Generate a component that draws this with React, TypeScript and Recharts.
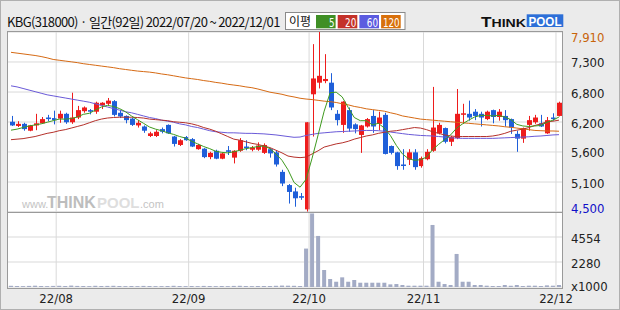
import { ComposedChart, BarChart, Bar, Line, XAxis, YAxis, CartesianGrid, ReferenceLine } from 'recharts'

// 일간 92일 (2022/07/20 ~ 2022/12/01)
const DATES = [
  '07/20', '07/21', '07/22', '07/25', '07/26', '07/27', '07/28', '07/29',
  '08/01', '08/02', '08/03', '08/04', '08/05', '08/08', '08/09', '08/10', '08/11', '08/12',
  '08/16', '08/17', '08/18', '08/19', '08/22', '08/23', '08/24', '08/25', '08/26', '08/29', '08/30', '08/31',
  '09/01', '09/02', '09/05', '09/06', '09/07', '09/08', '09/13', '09/14', '09/15', '09/16',
  '09/19', '09/20', '09/21', '09/22', '09/23', '09/26', '09/27', '09/28', '09/29', '09/30',
  '10/04', '10/05', '10/06', '10/07', '10/11', '10/12', '10/13', '10/14', '10/17', '10/18',
  '10/19', '10/20', '10/21', '10/24', '10/25', '10/26', '10/27', '10/28', '10/31',
  '11/01', '11/02', '11/03', '11/04', '11/07', '11/08', '11/09', '11/10', '11/11', '11/14',
  '11/15', '11/16', '11/17', '11/18', '11/21', '11/22', '11/23', '11/24', '11/25', '11/28', '11/29', '11/30',
  '12/01',
]

const OPEN = [
  6210, 6130, 6170, 6040, 6140, 6180, 6290, 6280, 6270, 6360,
  6200, 6290, 6410, 6430, 6400, 6520, 6550, 6600, 6380, 6320,
  6270, 6140, 6120, 5940, 5940, 6070, 6150, 5930, 5770, 5920,
  5880, 5690, 5700, 5540, 5660, 5510, 5670, 5530, 5660, 5740,
  5680, 5680, 5620, 5690, 5630, 5260, 5010, 4890, 4800, 4550,
  6730, 6950, 6980, 6950, 6360, 6150, 6430, 6160, 5960, 6120,
  6320, 6170, 6340, 5750, 5630, 5400, 5490, 5630, 5370, 5500,
  5660, 5990, 6090, 5830, 5900, 6360, 6360, 6400, 6360, 6260,
  6430, 6300, 6320, 6260, 5980, 5890, 6150, 6200, 6180, 5990,
  6290, 6320,
]
const HIGH = [
  6320, 6220, 6190, 6150, 6360, 6300, 6340, 6420, 6420, 6380,
  6760, 6510, 6500, 6450, 6590, 6580, 6660, 6620, 6430, 6330,
  6280, 6240, 6140, 6020, 6050, 6100, 6160, 5940, 5880, 5940,
  5900, 5790, 5710, 5640, 5680, 5620, 5750, 5670, 5900, 5860,
  5750, 5820, 5800, 5710, 5660, 5300, 5030, 4960, 4860, 6200,
  7680, 7910, 7490, 7130, 6430, 6600, 6480, 6180, 6150, 6280,
  6430, 6400, 6380, 5760, 5640, 5690, 5690, 5690, 5550, 5690,
  6870, 6190, 6100, 5940, 6830, 6550, 6610, 6450, 6400, 6420,
  6440, 6450, 6430, 6270, 6040, 6100, 6320, 6340, 6340, 6300,
  6370, 6590,
]
const LOW = [
  6130, 6110, 6040, 6030, 6050, 6170, 6220, 6160, 6190, 6170,
  6170, 6260, 6380, 6350, 6360, 6450, 6520, 6310, 6280, 6180,
  6130, 6100, 6000, 5920, 5920, 5990, 5980, 5740, 5750, 5850,
  5730, 5680, 5520, 5500, 5500, 5500, 5580, 5420, 5640, 5670,
  5650, 5660, 5600, 5530, 5360, 4990, 4660, 4600, 4730, 4500,
  5930, 6840, 6940, 6430, 6140, 6000, 6020, 5990, 5620, 6100,
  6000, 6050, 5590, 5590, 5300, 5300, 5390, 5300, 5340, 5480,
  5640, 5970, 5800, 5750, 5880, 6170, 6230, 6240, 6120, 6240,
  6180, 6230, 6120, 5980, 5640, 5810, 6040, 6170, 6110, 5980,
  6230, 6310,
]
const CLOSE = [
  6140, 6170, 6070, 6140, 6180, 6260, 6260, 6240, 6360, 6200,
  6290, 6430, 6480, 6400, 6570, 6570, 6610, 6340, 6310, 6240,
  6150, 6190, 6040, 5990, 6020, 6020, 5990, 5790, 5860, 5860,
  5740, 5770, 5540, 5620, 5510, 5610, 5640, 5660, 5860, 5710,
  5720, 5760, 5770, 5610, 5400, 5040, 4880, 4760, 4770, 6200,
  7030, 7080, 7020, 6480, 6240, 6590, 6080, 6070, 6140, 6260,
  6120, 6290, 5600, 5620, 5370, 5380, 5630, 5350, 5520, 5640,
  6100, 6150, 5830, 5920, 6360, 6370, 6290, 6320, 6290, 6400,
  6300, 6400, 6240, 6100, 5890, 6090, 6240, 6290, 6120, 6240,
  6260, 6570,
]
// 거래량 (천주)
const VOLUME = [
  110, 90, 80, 100, 120, 90, 80, 100, 110, 90,
  130, 100, 90, 80, 110, 90, 100, 110, 90, 80,
  90, 80, 100, 90, 80, 80, 90, 110, 90, 80,
  90, 80, 100, 90, 80, 90, 80, 100, 110, 90,
  80, 90, 90, 90, 110, 130, 120, 110, 90, 3500,
  6700, 4650, 1550, 730, 480, 880, 480, 640, 390, 390,
  390, 390, 390, 240, 270, 180, 120, 120, 120, 120,
  5650, 480, 270, 180, 3010, 480, 480, 180, 180, 120,
  90, 90, 180, 120, 180, 90, 120, 120, 90, 150,
  120, 180,
]
// 이동평균 5 / 20 / 60 / 120
const MA5 = [
  6050, 6070, 6100, 6130, 6150, 6170, 6200, 6230, 6260, 6260,
  6270, 6300, 6350, 6370, 6430, 6490, 6520, 6500, 6460, 6400,
  6320, 6250, 6180, 6110, 6070, 6040, 6000, 5970, 5930, 5900,
  5840, 5790, 5740, 5700, 5650, 5630, 5620, 5640, 5670, 5700,
  5720, 5740, 5750, 5700, 5600, 5480, 5300, 5060, 4970, 5120,
  5520, 5960, 6410, 6760, 6770, 6680, 6480, 6290, 6230, 6230,
  6150, 6180, 6090, 5950, 5760, 5600, 5510, 5480, 5490, 5540,
  5680, 5780, 5870, 5960, 6090, 6170, 6240, 6300, 6330, 6330,
  6320, 6330, 6300, 6250, 6160, 6130, 6120, 6130, 6140, 6200,
  6240, 6300,
]
const MA20 = [
  5870, 5880, 5890, 5910, 5930, 5960, 5990, 6010, 6040, 6060,
  6090, 6120, 6150, 6190, 6230, 6260, 6280, 6290, 6295, 6295,
  6295, 6290, 6280, 6260, 6250, 6240, 6230, 6210, 6200, 6190,
  6170, 6140, 6100, 6070, 6030, 5980, 5930, 5880, 5860, 5830,
  5800, 5780, 5750, 5720, 5670, 5620, 5560, 5540, 5530, 5540,
  5600, 5660, 5730, 5760, 5790, 5810, 5840, 5880, 5910, 5940,
  5960, 5990, 6010, 6030, 6040, 6060, 6080, 6100, 6090, 6060,
  6020, 5990, 5960, 5940, 5930, 5930, 5930, 5930, 5930, 5930,
  5940, 5960, 5990, 6030, 6050, 6070, 6100, 6140, 6170, 6210,
  6220, 6240,
]
const MA60 = [
  6890, 6870, 6840, 6810, 6780, 6750, 6720, 6700, 6680, 6660,
  6640, 6620, 6600, 6580, 6550, 6520, 6490, 6460, 6430, 6400,
  6380, 6350, 6320, 6290, 6270, 6240, 6220, 6200, 6170, 6150,
  6120, 6100, 6070, 6040, 6020, 6010, 6000, 6000, 5995, 5990,
  5990, 5985, 5980, 5970, 5960, 5945, 5930, 5915, 5920, 5950,
  5970, 5990, 6000, 6010, 6020, 6025, 6030, 6035, 6040, 6045,
  6045, 6040, 6030, 6015, 6000, 5985, 5970, 5960, 5950, 5945,
  5940, 5930, 5920, 5905, 5900, 5895, 5895, 5895, 5895, 5895,
  5895, 5900, 5905, 5910, 5915, 5920, 5925, 5935, 5940, 5950,
  5960, 5965,
]
const MA120 = [
  7525, 7510, 7495, 7480, 7465, 7445, 7420, 7390, 7375, 7360,
  7345, 7330, 7310, 7295, 7280, 7265, 7250, 7235, 7215, 7200,
  7185, 7170, 7160, 7150, 7135, 7115, 7100, 7080, 7060, 7040,
  7025, 7010, 6990, 6975, 6955, 6940, 6920, 6905, 6890, 6870,
  6855, 6830, 6800, 6770, 6750, 6730, 6700, 6680, 6655, 6640,
  6630, 6615, 6600, 6590, 6575, 6550, 6530, 6500, 6480, 6455,
  6440, 6425, 6410, 6380, 6355, 6320, 6300, 6280, 6260, 6250,
  6240, 6230, 6220, 6210, 6200, 6190, 6180, 6170, 6160, 6150,
  6140, 6130, 6115, 6105, 6090, 6075, 6060, 6045, 6040, 6035,
  6035, 6030,
]

const PRICE_TICKS = [4500, 5068, 5637, 6205, 6773, 7342, 7910]
const PRICE_LABELS = ['4,500', '5,100', '5,600', '6,200', '6,800', '7,300', '7,910']
const VOL_TICKS = [0, 2277, 4554]
const VOL_LABELS = ['x1000', '2280', '4554']
const MONTH_TICKS = ['08/01', '09/01', '10/04', '11/01', '12/01']
const MONTH_LABELS = ['22/08', '22/09', '22/10', '22/11', '22/12']

const UP = '#ee1c1c'
const DOWN = '#1f5fd9'
const GRID = '#d9d9d9'
const FRAME = '#9a9a9a'
const NARROW = "'DejaVu Sans Condensed', 'Liberation Sans', sans-serif"
const KR = "'Noto Sans CJK KR', sans-serif"
const LOGO = "'Liberation Sans', sans-serif"

const rows = DATES.map((date, i) => ({
  date,
  open: OPEN[i],
  high: HIGH[i],
  low: LOW[i],
  close: CLOSE[i],
  range: [LOW[i], HIGH[i]],
  volume: VOLUME[i],
  ma5: MA5[i],
  ma20: MA20[i],
  ma60: MA60[i],
  ma120: MA120[i],
}))

function Candle(props: any) {
  const { x, y, width, height, payload } = props
  const { open, close, high, low } = payload
  const span = high - low
  const toY = (v: number) => (span === 0 ? y : y + ((high - v) / span) * height)
  const color = close >= open ? UP : DOWN
  const cx = Math.round(x + width / 2) + 0.5
  const top = toY(Math.max(open, close))
  const bottom = toY(Math.min(open, close))
  return (
    <g>
      <line x1={cx} x2={cx} y1={y} y2={y + height} stroke={color} strokeWidth={1} />
      <rect x={cx - 2.5} y={top} width={5} height={Math.max(1.5, bottom - top)} fill={color} />
    </g>
  )
}

function PriceTick({ y, payload }: any) {
  const i = PRICE_TICKS.indexOf(payload.value)
  const last = PRICE_TICKS.length - 1
  const shift = i === last ? 5.5 : i === 0 ? -4 : 1
  const fill = i === last ? '#c8640a' : i === 0 ? '#1010c8' : '#222'
  return (
    <text x={571} y={y + shift} dominantBaseline="central" fontSize={13} fontFamily={NARROW} fill={fill}>
      {PRICE_LABELS[i]}
    </text>
  )
}

function VolTick({ y, payload }: any) {
  const i = VOL_TICKS.indexOf(payload.value)
  return (
    <text x={571} y={y + (i === 0 ? -1 : 1)} dominantBaseline="central" fontSize={13} fontFamily={NARROW} fill="#222">
      {VOL_LABELS[i]}
    </text>
  )
}

function MonthTick({ x, y, payload }: any) {
  const i = MONTH_TICKS.indexOf(payload.value)
  return (
    <text x={x - 3} y={y + 8} textAnchor="middle" fontSize={13} fontFamily={NARROW} fill="#222">
      {MONTH_LABELS[i]}
    </text>
  )
}

const legendItems = [
  { label: '5', color: '#3f8f25' },
  { label: '20', color: '#c4322a' },
  { label: '60', color: '#5c5ce0' },
  { label: '120', color: '#d8700c' },
]

function Header() {
  return (
    <svg width={620} height={31} style={{ position: 'absolute', left: 0, top: 0 }}>
      <text x={7} y={26.5} fontSize={13} fontFamily={KR} fill="#111" letterSpacing={-0.65}>
        KBG(318000) · 일간(92일) 2022/07/20 ~ 2022/12/01
      </text>
      {/* 이평 범례 */}
      <rect x={285.5} y={12.5} width={119.5} height={17} fill="#fff" stroke="#8a8a8a" />
      <text x={289} y={26} fontSize={12} fontFamily={KR} fill="#111">
        이평
      </text>
      {legendItems.map((it, i) => {
        const bx = 316 + i * 21.7
        return (
          <g key={it.label}>
            <rect x={bx} y={15} width={19.6} height={13.3} fill={it.color} />
            <text
              x={bx + 18.6}
              y={26.5}
              textAnchor="end"
              fontSize={13}
              fontFamily={NARROW}
              fill="#fff"
              textLength={it.label.length * 5.6}
              lengthAdjust="spacingAndGlyphs"
            >
              {it.label}
            </text>
          </g>
        )
      })}
      {/* 로고 */}
      <text x={481} y={27} fontSize={14} fontWeight={900} fontFamily={LOGO} fill="#111" textLength={45} lengthAdjust="spacingAndGlyphs">
        T<tspan fontSize={11.5}>HINK</tspan>
      </text>
      <rect x={526.7} y={14.3} width={36.6} height={12.7} fill="#2d6fd8" />
      <text x={528.5} y={26} fontSize={13} fontWeight={900} fontFamily={LOGO} fill="#fff" textLength={33} lengthAdjust="spacingAndGlyphs">
        POOL
      </text>
    </svg>
  )
}

function Watermark() {
  return (
    <svg width={200} height={24} style={{ position: 'absolute', left: 0, top: 190 }}>
      <text x={22} y={18} fontSize={11} fontFamily={LOGO} fill="#c4c4c4">www.</text>
      <text x={47} y={18} fontSize={16} fontWeight={900} fontFamily={LOGO} fill="#bdbdbd">THINK</text>
      <text x={97} y={18} fontSize={15} fontWeight={900} fontFamily={LOGO} fill="#dedede">POOL</text>
      <text x={140} y={18} fontSize={11} fontFamily={LOGO} fill="#c4c4c4">.com</text>
    </svg>
  )
}

export default function App() {
  return (
    <div
      style={{
        position: 'absolute',
        left: 0,
        top: 0,
        width: 620,
        height: 310,
        background: '#ebebeb',
        boxShadow: 'inset 0 0 0 1px #b0b0b0',
        overflow: 'hidden',
      }}
    >
      <style>{'.recharts-surface, .recharts-wrapper { overflow: visible !important; }'}</style>
      <Header />

      {/* 차트 배경 */}
      <div style={{ position: 'absolute', left: 7, top: 31, width: 556, height: 258, background: '#fff' }} />

      <Watermark />

      {/* 가격 */}
      <div style={{ position: 'absolute', left: 0, top: 0 }}>
        <ComposedChart width={620} height={212} data={rows} margin={{ top: 32, right: 0, bottom: 0, left: 8 }}>
          <CartesianGrid stroke={GRID} vertical={false} />
          <XAxis dataKey="date" hide />
          <YAxis
            orientation="right"
            width={58}
            domain={[4500, 7910]}
            ticks={PRICE_TICKS}
            interval={0}
            allowDataOverflow
            axisLine={false}
            tickLine={false}
            tick={<PriceTick />}
          />
          {MONTH_TICKS.map((m) => (
            <ReferenceLine key={m} x={m} position="start" stroke={GRID} />
          ))}
          <Line dataKey="ma120" stroke="#d66a14" strokeWidth={1} dot={false} activeDot={false} isAnimationActive={false} />
          <Line dataKey="ma60" stroke="#6a5ad8" strokeWidth={1} dot={false} activeDot={false} isAnimationActive={false} />
          <Line dataKey="ma20" stroke="#b5302a" strokeWidth={1} dot={false} activeDot={false} isAnimationActive={false} />
          <Line dataKey="ma5" stroke="#3f9a1f" strokeWidth={1} dot={false} activeDot={false} isAnimationActive={false} />
          <Bar dataKey="range" barSize={5} shape={<Candle />} isAnimationActive={false} />
        </ComposedChart>
      </div>

      {/* 거래량 */}
      <div style={{ position: 'absolute', left: 0, top: 212 }}>
        <BarChart width={620} height={97} data={rows} margin={{ top: 0, right: 0, bottom: 0, left: 8 }} barCategoryGap={1}>
          <CartesianGrid stroke={GRID} vertical={false} />
          <XAxis
            dataKey="date"
            height={22}
            ticks={MONTH_TICKS}
            interval={0}
            axisLine={false}
            tickLine={false}
            tick={<MonthTick />}
          />
          <YAxis
            orientation="right"
            width={58}
            domain={[0, 6831]}
            ticks={VOL_TICKS}
            interval={0}
            axisLine={false}
            tickLine={false}
            tick={<VolTick />}
          />
          {MONTH_TICKS.map((m) => (
            <ReferenceLine key={m} x={m} position="start" stroke={GRID} />
          ))}
          <Bar dataKey="volume" fill="#a3abc5" barSize={4} isAnimationActive={false} />
        </BarChart>
      </div>

      {/* 테두리 */}
      <div
        style={{
          position: 'absolute',
          left: 7,
          top: 31,
          width: 556,
          height: 258,
          boxSizing: 'border-box',
          border: `1px solid ${FRAME}`,
          pointerEvents: 'none',
        }}
      />
      <div style={{ position: 'absolute', left: 7, top: 212, width: 556, height: 1, background: FRAME }} />
    </div>
  )
}
